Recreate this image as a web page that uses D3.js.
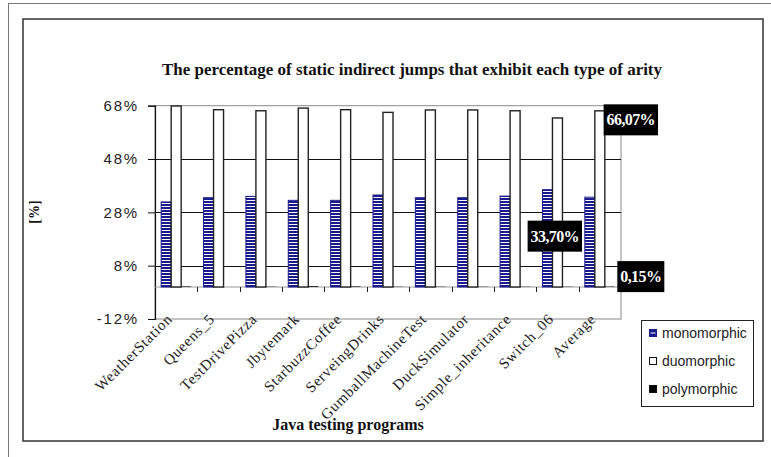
<!DOCTYPE html>
<html>
<head>
<meta charset="utf-8">
<script src="https://cdn.jsdelivr.net/npm/d3@7/dist/d3.min.js"></script>
<style>
  html, body { margin: 0; padding: 0; background: #fff; }
  svg { display: block; }
</style>
</head>
<body>
<svg id="chart" width="771" height="457"></svg>
<script>
// Java test programs and the share of static indirect jumps per arity type (%)
const categories = ["WeatherStation", "Queens_5", "TestDrivePizza", "Jbytemark", "StarbuzzCoffee",
  "ServeingDrinks", "GumballMachineTest", "DuckSimulator", "Simple_inheritance", "Switch_06", "Average"];
const monomorphic = [31.9, 33.5, 34.0, 32.5, 32.5, 34.5, 33.5, 33.5, 34.1, 36.5, 33.70];
const duomorphic  = [67.9, 66.5, 66.1, 67.1, 66.5, 65.5, 66.4, 66.4, 66.1, 63.4, 66.07];
const polymorphic = [0.2, 0.0, 0.1, 0.3, 0.2, 0.1, 0.1, 0.1, 0.1, 0.1, 0.15];
const seriesNames = ["monomorphic", "duomorphic", "polymorphic"];
const yTicks = [-12, 8, 28, 48, 68];

const titleText = "The percentage of static indirect jumps that exhibit each type of arity";
const xTitle = "Java testing programs";
const yTitle = "[%]";

const svg = d3.select("#chart");
const plot = { left: 155, right: 621, top: 105.7, bottom: 319 };

// pattern for the striped monomorphic bars
const defs = svg.append("defs");
const pat = defs.append("pattern")
  .attr("id", "stripes").attr("patternUnits", "userSpaceOnUse")
  .attr("width", 6).attr("height", 3);
pat.append("rect").attr("width", 6).attr("height", 3).attr("fill", "#fff");
pat.append("rect").attr("width", 6).attr("height", 2).attr("fill", "#1a1a8c");

// outer frame and chart border
svg.append("rect").attr("x", 8.5).attr("y", 3.5).attr("width", 780).attr("height", 470)
  .attr("fill", "#fff").attr("stroke", "#777").attr("stroke-width", 1);
svg.append("rect").attr("x", 23).attr("y", 19).attr("width", 740).attr("height", 422)
  .attr("fill", "#fff").attr("stroke", "#333").attr("stroke-width", 1.5);

const x = d3.scaleBand().domain(categories).range([plot.left, plot.right]).paddingInner(0).paddingOuter(0);
const x1 = d3.scaleBand().domain(seriesNames).range([0, x.bandwidth()]).paddingInner(0).paddingOuter(0.618);
const y = d3.scaleLinear().domain([-12, 68]).range([plot.bottom, plot.top]);

// plot area outline
svg.append("rect")
  .attr("x", plot.left).attr("y", plot.top)
  .attr("width", plot.right - plot.left).attr("height", plot.bottom - plot.top)
  .attr("fill", "none").attr("stroke", "#8a8a8a").attr("stroke-width", 1);

// horizontal gridlines
svg.append("g").selectAll("line").data(yTicks.filter(t => t > -12 && t < 68)).join("line")
  .attr("x1", plot.left).attr("x2", plot.right)
  .attr("y1", d => Math.round(y(d)) + 0.5).attr("y2", d => Math.round(y(d)) + 0.5)
  .attr("stroke", "#111").attr("stroke-width", 1);

// y axis
const yAxis = d3.axisLeft(y).tickValues(yTicks).tickSize(7).tickPadding(9)
  .tickFormat(d => d + "%");
const gy = svg.append("g").attr("transform", `translate(${plot.left},0)`).call(yAxis);
gy.select(".domain").attr("stroke", "#111").attr("stroke-width", 1.2);
gy.selectAll(".tick line").attr("stroke", "#111");
gy.selectAll(".tick text")
  .attr("font-family", "'Liberation Sans', Arial, sans-serif")
  .attr("font-size", 15).attr("letter-spacing", 1.8).attr("fill", "#222");

// category axis at 0%
const zeroY = y(0);
svg.append("line").attr("x1", plot.left).attr("x2", plot.right)
  .attr("y1", zeroY).attr("y2", zeroY).attr("stroke", "#9a9a9a").attr("stroke-width", 1);
svg.append("g").selectAll("line").data(categories.slice(1)).join("line")
  .attr("x1", d => Math.round(x(d)) + 0.5).attr("x2", d => Math.round(x(d)) + 0.5)
  .attr("y1", zeroY).attr("y2", zeroY + 5)
  .attr("stroke", "#222").attr("stroke-width", 1);

// bars
const rows = categories.map((c, i) => ({ c, i }));
const groups = svg.append("g").selectAll("g").data(rows).join("g")
  .attr("transform", d => `translate(${x(d.c)},0)`);

groups.append("rect")
  .attr("x", x1("monomorphic")).attr("width", x1.bandwidth())
  .attr("y", d => y(monomorphic[d.i])).attr("height", d => y(0) - y(monomorphic[d.i]))
  .attr("fill", "url(#stripes)").attr("stroke", "#1a1a8c").attr("stroke-width", 1);
groups.append("rect")
  .attr("x", x1("duomorphic")).attr("width", x1.bandwidth())
  .attr("y", d => y(duomorphic[d.i])).attr("height", d => y(0) - y(duomorphic[d.i]))
  .attr("fill", "#fff").attr("stroke", "#222").attr("stroke-width", 1.4);
groups.append("rect")
  .attr("x", x1("polymorphic")).attr("width", x1.bandwidth())
  .attr("y", d => y(polymorphic[d.i])).attr("height", d => y(0) - y(polymorphic[d.i]))
  .attr("fill", "#000");

// category labels
svg.append("g").selectAll("text").data(categories).join("text")
  .attr("transform", d => `translate(${x(d) + x.bandwidth() / 2 - 3},${plot.bottom + 1}) rotate(-45)`)
  .attr("text-anchor", "end")
  .attr("font-family", "'Liberation Serif', 'Times New Roman', serif")
  .attr("font-size", 15).attr("letter-spacing", 0.7).attr("fill", "#222")
  .text(d => d);

// value labels for the Average group
const fmt = v => d3.format(".2f")(v).replace(".", ",") + "%";
const last = categories.length - 1;
const avgX = x(categories[last]);
const labels = [
  { v: duomorphic[last],  cx: avgX + x1("duomorphic") + x1.bandwidth() + 26, cy: y(duomorphic[last]) + 9 },
  { v: monomorphic[last], cx: avgX + x1("monomorphic") - 30, cy: y(monomorphic[last]) + 39 },
  { v: polymorphic[last], cx: avgX + x1("polymorphic") + x1.bandwidth() + 26, cy: y(polymorphic[last]) - 10 }
];
const lg = svg.append("g").selectAll("g").data(labels).join("g");
lg.append("text")
  .attr("x", d => d.cx).attr("y", d => d.cy).attr("dy", "0.35em")
  .attr("text-anchor", "middle")
  .attr("font-family", "'Liberation Serif', 'Times New Roman', serif")
  .attr("font-weight", "bold").attr("font-size", 16).attr("letter-spacing", -0.6).attr("fill", "#fff")
  .text(d => fmt(d.v))
  .each(function (d) { d.w = this.getComputedTextLength(); });
lg.insert("rect", "text")
  .attr("x", d => d.cx - d.w / 2 - 3).attr("y", d => d.cy - 15.5)
  .attr("width", d => d.w + 6).attr("height", 31)
  .attr("fill", "#000");

// titles
svg.append("text").attr("x", 412).attr("y", 75).attr("text-anchor", "middle")
  .attr("font-family", "'Liberation Serif', 'Times New Roman', serif")
  .attr("font-weight", "bold").attr("font-size", 17).attr("fill", "#111")
  .attr("textLength", 500).attr("lengthAdjust", "spacingAndGlyphs")
  .text(titleText);
svg.append("text").attr("x", 348).attr("y", 430).attr("text-anchor", "middle")
  .attr("font-family", "'Liberation Serif', 'Times New Roman', serif")
  .attr("font-weight", "bold").attr("font-size", 16).attr("fill", "#111")
  .text(xTitle);
svg.append("text").attr("transform", "translate(39,212) rotate(-90)").attr("text-anchor", "middle")
  .attr("font-family", "'Liberation Serif', 'Times New Roman', serif")
  .attr("font-weight", "bold").attr("font-size", 14).attr("fill", "#111")
  .text(yTitle);

// legend
const legend = svg.append("g").attr("transform", "translate(641,320)");
legend.append("rect").attr("x", 0.5).attr("y", 0.5).attr("width", 112).attr("height", 86)
  .attr("fill", "#fff").attr("stroke", "#222").attr("stroke-width", 1);
const items = legend.selectAll("g").data(seriesNames).join("g")
  .attr("transform", (d, i) => `translate(8,${13 + i * 28})`);
items.append("rect").attr("x", 0.5).attr("y", -3.5).attr("width", 7).attr("height", 7)
  .attr("fill", d => d === "monomorphic" ? "#1a1a8c" : d === "duomorphic" ? "#fff" : "#000")
  .attr("stroke", d => d === "monomorphic" ? "#1a1a8c" : "#111").attr("stroke-width", 1);
items.filter(d => d === "monomorphic").append("line")
  .attr("x1", 1.5).attr("x2", 6.5).attr("y1", 0).attr("y2", 0)
  .attr("stroke", "#fff").attr("stroke-width", 1);
items.append("text").attr("x", 13).attr("y", 0).attr("dy", "0.35em")
  .attr("font-family", "'Liberation Sans', Arial, sans-serif")
  .attr("font-size", 14).attr("fill", "#222")
  .text(d => d);
</script>
</body>
</html>
